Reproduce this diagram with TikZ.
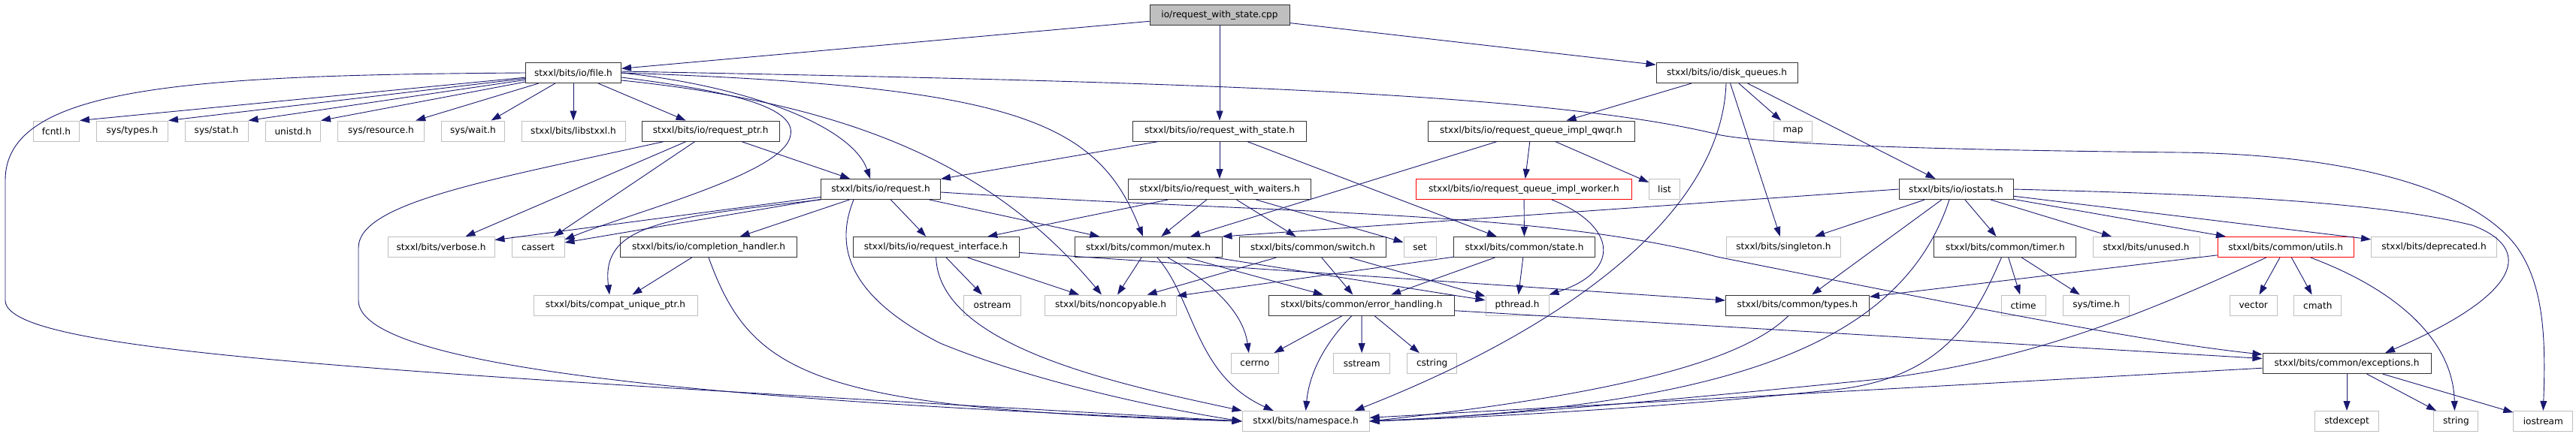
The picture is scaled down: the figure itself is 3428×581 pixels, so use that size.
\documentclass[tikz,border=0pt]{standalone}
\usepackage{fontspec}
\newfontfamily\dotfont{DejaVu Sans}
\usetikzlibrary{arrows.meta}
\definecolor{edgeblue}{HTML}{191970}
\definecolor{extgray}{HTML}{BFBFBF}

\begin{document}
\begin{tikzpicture}[x=1pt,y=1pt,>={Triangle[length=13pt,width=9pt]},
 incl/.style={draw=black!80,line width=1pt,fill=white,minimum height=27pt,inner sep=0pt,
   font=\dotfont\fontsize{12.1pt}{14pt}\selectfont},
 sysincl/.style={incl,draw=extgray},
 cutincl/.style={incl,draw=red},
 dep/.style={->,edgeblue,line width=0.9pt}]
\useasboundingbox (0,0) rectangle (3428,-581);

% top level
\node[incl,fill=extgray,minimum width=186pt] (cpp) at (1623,-20) {io/request\_with\_state.cpp};
\node[incl,minimum width=127pt] (file) at (763,-97) {stxxl/bits/io/file.h};
\node[incl,minimum width=188pt] (dq) at (2298,-97) {stxxl/bits/io/disk\_queues.h};
% row 2
\node[sysincl,minimum width=61pt] (fcntl) at (75,-174.5) {fcntl.h};
\node[sysincl,minimum width=95pt] (systypes) at (176,-174.5) {sys/types.h};
\node[sysincl,minimum width=84pt] (sysstat) at (288,-174.5) {sys/stat.h};
\node[sysincl,minimum width=73pt] (unistd) at (390,-174.5) {unistd.h};
\node[sysincl,minimum width=115pt] (sysres) at (507,-174.5) {sys/resource.h};
\node[sysincl,minimum width=84pt] (syswait) at (629.5,-174.5) {sys/wait.h};
\node[sysincl,minimum width=138pt] (libstxxl) at (763,-174.5) {stxxl/bits/libstxxl.h};
\node[incl,minimum width=183pt] (reqptr) at (945.6,-174.5) {stxxl/bits/io/request\_ptr.h};
\node[incl,minimum width=231pt] (rws) at (1623,-174.5) {stxxl/bits/io/request\_with\_state.h};
\node[incl,minimum width=275pt] (qwqr) at (2037.5,-174.5) {stxxl/bits/io/request\_queue\_impl\_qwqr.h};
\node[sysincl,minimum width=51pt] (map) at (2386,-174.5) {map};
% row 3
\node[incl,minimum width=159pt] (request) at (1172,-252) {stxxl/bits/io/request.h};
\node[incl,minimum width=243pt] (rww) at (1623,-252) {stxxl/bits/io/request\_with\_waiters.h};
\node[cutincl,minimum width=287pt] (worker) at (2028,-252) {stxxl/bits/io/request\_queue\_impl\_worker.h};
\node[sysincl,minimum width=41pt] (list) at (2215,-252) {list};
\node[incl,minimum width=152pt] (iostats) at (2603,-252) {stxxl/bits/io/iostats.h};
% row 4
\node[sysincl,minimum width=142pt] (verbose) at (587,-329) {stxxl/bits/verbose.h};
\node[sysincl,minimum width=70pt] (cassert) at (716,-329) {cassert};
\node[incl,minimum width=235pt] (comph) at (943,-329) {stxxl/bits/io/completion\_handler.h};
\node[incl,minimum width=221pt] (reqif) at (1245.6,-329) {stxxl/bits/io/request\_interface.h};
\node[incl,minimum width=196pt] (mutex) at (1528,-329) {stxxl/bits/common/mutex.h};
\node[incl,minimum width=195pt] (swtch) at (1747,-329) {stxxl/bits/common/switch.h};
\node[sysincl,minimum width=43pt] (set) at (1889.5,-329) {set};
\node[incl,minimum width=188pt] (state) at (2028.5,-329) {stxxl/bits/common/state.h};
\node[sysincl,minimum width=152pt] (singleton) at (2373.4,-329) {stxxl/bits/singleton.h};
\node[incl,minimum width=189pt] (timer) at (2668.4,-329) {stxxl/bits/common/timer.h};
\node[sysincl,minimum width=142pt] (unused) at (2856,-329) {stxxl/bits/unused.h};
\node[cutincl,minimum width=181pt] (utils) at (3041.7,-329) {stxxl/bits/common/utils.h};
\node[sysincl,minimum width=167pt] (deprecated) at (3239,-329) {stxxl/bits/deprecated.h};
% row 5
\node[sysincl,minimum width=218pt] (compat) at (819,-406.5) {stxxl/bits/compat\_unique\_ptr.h};
\node[sysincl,minimum width=76pt] (ostream) at (1320.5,-406.5) {ostream};
\node[sysincl,minimum width=175pt] (noncopy) at (1478,-406.5) {stxxl/bits/noncopyable.h};
\node[incl,minimum width=247pt] (errh) at (1812,-406.5) {stxxl/bits/common/error\_handling.h};
\node[sysincl,minimum width=84pt] (pthread) at (2019,-406.5) {pthread.h};
\node[incl,minimum width=191pt] (types) at (2392,-406.5) {stxxl/bits/common/types.h};
\node[sysincl,minimum width=59pt] (ctime) at (2692.5,-406.5) {ctime};
\node[sysincl,minimum width=88pt] (systime) at (2789.6,-406.5) {sys/time.h};
\node[sysincl,minimum width=63pt] (vector) at (2998.7,-406.5) {vector};
\node[sysincl,minimum width=63pt] (cmath) at (3084.3,-406.5) {cmath};
% row 6
\node[sysincl,minimum width=63pt] (cerrno) at (1669.8,-484) {cerrno};
\node[sysincl,minimum width=75pt] (sstream) at (1812.2,-484) {sstream};
\node[sysincl,minimum width=66pt] (cstring) at (1905.7,-484) {cstring};
\node[incl,minimum width=224pt] (except) at (3123,-484) {stxxl/bits/common/exceptions.h};
% row 7
\node[sysincl,minimum width=169pt] (ns) at (1737.6,-561) {stxxl/bits/namespace.h};
\node[sysincl,minimum width=85.5pt] (stdexcept) at (3123,-561) {stdexcept};
\node[sysincl,minimum width=59pt] (string) at (3268.4,-561) {string};
\node[sysincl,minimum width=79pt] (iostream) at (3384.3,-561) {iostream};

% source file
\draw[dep] (cpp) -- (file);
\draw[dep] (cpp) -- (rws);
\draw[dep] (cpp) -- (dq);
% file.h
\draw[dep] (file) -- (fcntl.north east);
\draw[dep] (file) -- (systypes.north east);
\draw[dep] (file) -- (sysstat.north east);
\draw[dep] (file) -- (unistd.north east);
\draw[dep] (file) -- (sysres);
\draw[dep] (file) -- (syswait);
\draw[dep] (file) -- (libstxxl);
\draw[dep] (file) -- (reqptr);
\draw[dep] (file.east) .. controls (1000,-115) and (1135,-170) .. ([xshift=-14pt]request.north);
\draw[dep] ([yshift=-6pt]file.east) .. controls (960,-120) and (1060,-140) .. (1052,-180)
  .. controls (1045,-230) and (850,-280) .. ([yshift=10pt]cassert.east);
\draw[dep] (file.east) .. controls (1350,-115) and (1460,-160) .. ([xshift=-7pt]mutex.north);
\draw[dep] ([yshift=-10pt]file.east) .. controls (1150,-140) and (1330,-230) .. ([xshift=-12pt]noncopy.north);
\draw[dep] (file.west) .. controls (250,-100) and (7,-115) .. (7,-240) -- (7,-400)
  .. controls (7,-470) and (500,-495) .. (ns.west);
\draw[dep] ([yshift=2pt]file.east) .. controls (1500,-108) and (2050,-120) .. (2290,-180)
  .. controls (2360,-193) and (2600,-200) .. (2900,-203)
  .. controls (3150,-206) and (3300,-260) .. (3350,-330)
  .. controls (3385,-380) and (3388,-450) .. (iostream.north);
% request_ptr.h
\draw[dep] (reqptr) -- (verbose);
\draw[dep] (reqptr) -- (cassert);
\draw[dep] (reqptr) -- (request);
\draw[dep] ([xshift=30pt]reqptr.south west) .. controls (650,-240) and (477,-270) .. (477,-330) -- (477,-400)
  .. controls (477,-480) and (850,-530) .. (ns.west);
% request_with_state.h
\draw[dep] (rws) -- (request);
\draw[dep] (rws) -- (rww);
\draw[dep] (rws) -- (state);
% disk_queues.h
\draw[dep] (dq) -- (qwqr);
\draw[dep] (dq) -- (map);
\draw[dep] (dq) -- (iostats);
\draw[dep] (dq) -- (singleton);
\draw[dep] ([xshift=-1pt]dq.south) .. controls (2290,-300) and (2050,-450) .. ([xshift=-20pt]ns.north east);
% request_queue_impl_*
\draw[dep] (qwqr) -- (worker);
\draw[dep] (qwqr) -- (list);
\draw[dep] (qwqr) -- ([xshift=56pt]mutex.north);
\draw[dep] (worker) -- (state);
\draw[dep] ([xshift=37pt]worker.south) .. controls (2150,-300) and (2160,-360) .. (pthread.north east);
% request.h
\draw[dep] (request) -- (verbose);
\draw[dep] (request) -- (cassert);
\draw[dep] (request) -- (comph);
\draw[dep] (request) -- (reqif);
\draw[dep] (request) -- (mutex);
\draw[dep] (request.south west) .. controls (880,-290) and (800,-300) .. ([xshift=-8pt]compat.north);
\draw[dep] ([xshift=-36pt]request.south) .. controls (1110,-330) and (1130,-395) .. (1251,-457)
  .. controls (1380,-510) and (1550,-545) .. (ns.west);
\draw[dep] ([yshift=-4pt]request.east) .. controls (1700,-285) and (2050,-280) .. (2285,-342)
  .. controls (2600,-405) and (2850,-455) .. ([yshift=12pt]except.west);
% request_with_waiters.h
\draw[dep] (rww) -- (reqif);
\draw[dep] (rww) -- (mutex);
\draw[dep] (rww) -- (swtch);
\draw[dep] (rww) -- (set);
% iostats.h
\draw[dep] (iostats.west) -- (mutex.north east);
\draw[dep] (iostats) -- (singleton);
\draw[dep] (iostats) -- (types);
\draw[dep] (iostats) -- (timer);
\draw[dep] (iostats) -- (unused);
\draw[dep] (iostats) -- (utils);
\draw[dep] (iostats) -- (deprecated);
\draw[dep] ([xshift=-9pt]iostats.south) .. controls (2530,-460) and (2300,-540) .. (ns.east);
\draw[dep] (iostats.east) .. controls (2900,-258) and (3150,-265) .. (3290,-300)
  .. controls (3370,-330) and (3360,-390) .. ([xshift=51pt]except.north);
% completion_handler.h, request_interface.h
\draw[dep] (comph) -- (compat);
\draw[dep] (comph.south) .. controls (1000,-500) and (1080,-545) .. (ns.west);
\draw[dep] (reqif) -- (ostream);
\draw[dep] (reqif) -- (noncopy);
\draw[dep] (reqif) -- (types);
\draw[dep] (reqif.south) .. controls (1250,-460) and (1480,-510) .. (ns.north west);
% mutex.h, switch.h, state.h
\draw[dep] (mutex) -- (noncopy);
\draw[dep] (mutex) -- (errh);
\draw[dep] (mutex) -- (pthread);
\draw[dep] ([xshift=26pt]mutex.south) .. controls (1620,-380) and (1655,-420) .. ([xshift=-8pt]cerrno.north);
\draw[dep] ([xshift=12pt]mutex.south) .. controls (1590,-400) and (1590,-500) .. ([xshift=-43pt]ns.north);
\draw[dep] (swtch) -- (noncopy);
\draw[dep] (swtch) -- (errh);
\draw[dep] (swtch) -- (pthread);
\draw[dep] (state) -- (noncopy);
\draw[dep] (state) -- (errh);
\draw[dep] (state) -- (pthread);
% error_handling.h
\draw[dep] (errh) -- (cerrno);
\draw[dep] (errh) -- (sstream);
\draw[dep] (errh) -- (cstring);
\draw[dep] (errh) -- (except);
\draw[dep] ([xshift=-13pt]errh.south) .. controls (1760,-460) and (1742,-500) .. (ns.north);
% types.h, timer.h, utils.h
\draw[dep] ([xshift=-12pt]types.south) .. controls (2330,-470) and (2200,-520) .. (ns.east);
\draw[dep] (timer) -- (ctime);
\draw[dep] (timer) -- (systime);
\draw[dep] ([xshift=-5pt]timer.south) .. controls (2630,-420) and (2590,-500) .. (2450,-518)
  .. controls (2250,-540) and (2000,-555) .. (ns.east);
\draw[dep] (utils) -- (types);
\draw[dep] (utils) -- (vector);
\draw[dep] (utils) -- (cmath);
\draw[dep] ([xshift=33pt]utils.south) .. controls (3200,-390) and (3265,-460) .. ([xshift=-2pt]string.north);
\draw[dep] ([xshift=-26pt]utils.south) .. controls (2850,-420) and (2700,-480) .. (2500,-505)
  .. controls (2200,-535) and (2000,-553) .. (ns.east);
% exceptions.h
\draw[dep] (except) -- (stdexcept);
\draw[dep] (except) -- (string);
\draw[dep] (except) -- (iostream);
\draw[dep] (except) -- (ns);
\end{tikzpicture}
\end{document}
